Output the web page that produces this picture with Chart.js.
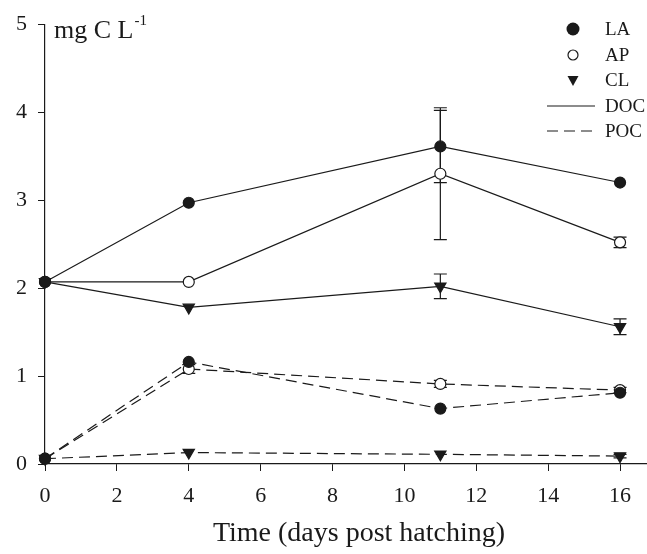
<!DOCTYPE html>
<html>
<head>
<meta charset="utf-8">
<script src="https://cdn.jsdelivr.net/npm/chart.js@4.4.0/dist/chart.umd.min.js"></script>
<style>
    body { margin: 0; background: #fff; }
    #wrap { width: 647px; height: 554px; }
</style>
</head>
<body>
<div id="wrap"><canvas id="chart" width="647" height="554"></canvas></div>
<script>
const days = [0, 4, 11, 16];
const xTicks = [0, 2, 4, 6, 8, 10, 12, 14, 16];

// DOC (solid)
const docLA = [2.07, 2.97, 3.61, 3.20];
const docAP = [2.07, 2.07, 3.30, 2.52];
const docCL = [2.07, 1.78, 2.02, 1.56];
// POC (dashed)
const pocLA = [0.06, 1.16, 0.63, 0.81];
const pocAP = [0.06, 1.08, 0.91, 0.84];
const pocCL = [0.06, 0.13, 0.11, 0.09];

// standard errors
const errDocLA = [0, 0, 0.41, 0];
const errDocAP = [0, 0, 0.75, 0.06];
const errDocCL = [0, 0, 0.14, 0.09];
const errPocLA = [0, 0, 0, 0];
const errPocAP = [0, 0.05, 0.04, 0.03];
const errPocCL = [0, 0, 0, 0.02];

const ink = '#1a1a1a';
const serif = "'Liberation Serif', 'DejaVu Serif', serif";
const dash = [11, 6];

function makeSet(label, values, errors, marker, dashed) {
    return {
        label: label,
        data: days.map((d, i) => ({ x: d, y: values[i] })),
        errors: errors,
        borderColor: ink,
        borderWidth: 1.2,
        borderDash: dashed ? dash : [],
        pointStyle: marker === 'tri' ? 'triangle' : 'circle',
        pointRotation: marker === 'tri' ? 180 : 0,
        pointRadius: marker === 'tri' ? 6.5 : 5.5,
        pointBackgroundColor: marker === 'open' ? '#fff' : ink,
        pointBorderColor: ink,
        pointBorderWidth: 1.2,
        tension: 0,
        clip: false
    };
}

const data = {
    datasets: [
        makeSet('LA DOC', docLA, errDocLA, 'fill', false),
        makeSet('AP DOC', docAP, errDocAP, 'open', false),
        makeSet('CL DOC', docCL, errDocCL, 'tri', false),
        makeSet('LA POC', pocLA, errPocLA, 'fill', true),
        makeSet('AP POC', pocAP, errPocAP, 'open', true),
        makeSet('CL POC', pocCL, errPocCL, 'tri', true)
    ]
};

const errorBars = {
    id: 'errorBars',
    beforeDatasetsDraw(chart) {
        const ctx = chart.ctx;
        const xs = chart.scales.x, ys = chart.scales.y;
        ctx.save();
        ctx.strokeStyle = ink;
        ctx.lineWidth = 1.2;
        chart.data.datasets.forEach((ds) => {
            ds.data.forEach((p, i) => {
                const e = ds.errors[i];
                if (!e) return;
                const px = xs.getPixelForValue(p.x);
                const top = ys.getPixelForValue(p.y + e);
                const bot = ys.getPixelForValue(p.y - e);
                ctx.beginPath();
                ctx.moveTo(px, top); ctx.lineTo(px, bot);
                ctx.moveTo(px - 6.5, top); ctx.lineTo(px + 6.5, top);
                ctx.moveTo(px - 6.5, bot); ctx.lineTo(px + 6.5, bot);
                ctx.stroke();
            });
        });
        ctx.restore();
    }
};

const extras = {
    id: 'extras',
    afterDraw(chart) {
        const ctx = chart.ctx;
        ctx.save();
        ctx.fillStyle = ink;
        ctx.strokeStyle = ink;

        // unit label
        ctx.textBaseline = 'alphabetic';
        ctx.textAlign = 'left';
        ctx.font = '26px ' + serif;
        ctx.fillText('mg C L', 54, 38);
        const w = ctx.measureText('mg C L').width;
        ctx.font = '15px ' + serif;
        ctx.fillText('-1', 54 + w + 1, 25);

        // axis title
        ctx.font = '28px ' + serif;
        ctx.textAlign = 'center';
        ctx.fillText('Time (days post hatching)', 359, 541);

        // legend
        ctx.font = '19px ' + serif;
        ctx.textAlign = 'left';
        ctx.textBaseline = 'middle';
        const rows = [['LA', 29], ['AP', 55], ['CL', 80], ['DOC', 106], ['POC', 131]];
        rows.forEach(([t, y]) => ctx.fillText(t, 605, y + 1));

        ctx.lineWidth = 1.2;
        ctx.beginPath();
        ctx.arc(573, 29, 6.5, 0, Math.PI * 2);
        ctx.fill();
        ctx.beginPath();
        ctx.arc(573, 55, 5, 0, Math.PI * 2);
        ctx.fillStyle = '#fff';
        ctx.fill();
        ctx.stroke();
        ctx.fillStyle = ink;
        ctx.beginPath();
        ctx.moveTo(567.5, 76); ctx.lineTo(578.5, 76); ctx.lineTo(573, 86);
        ctx.closePath();
        ctx.fill();

        ctx.beginPath();
        ctx.moveTo(547, 106); ctx.lineTo(595, 106);
        ctx.stroke();
        ctx.setLineDash(dash);
        ctx.beginPath();
        ctx.moveTo(547, 131); ctx.lineTo(595, 131);
        ctx.stroke();
        ctx.restore();
    }
};

const config = {
    type: 'line',
    data,
    options: {
        responsive: false,
        animation: false,
        layout: {
            autoPadding: false,
            padding: { top: 24, left: 0, right: 0, bottom: 0 }
        },
        plugins: {
            legend: false,
            tooltip: false
        },
        scales: {
            x: {
                type: 'linear',
                min: 0,
                max: 16.75,
                afterBuildTicks: (scale) => {
                    scale.ticks = xTicks.map((v) => ({ value: v }));
                },
                afterFit: (scale) => {
                    scale.height = 90;
                    scale.paddingRight = 0;
                },
                grid: {
                    drawOnChartArea: false,
                    tickLength: 7,
                    color: ink
                },
                border: { color: ink, width: 1.2 },
                ticks: {
                    color: ink,
                    padding: 12,
                    maxRotation: 0,
                    autoSkip: false,
                    font: { family: serif, size: 22 }
                }
            },
            y: {
                type: 'linear',
                min: 0,
                max: 5,
                afterFit: (scale) => { scale.width = 45; },
                grid: {
                    drawOnChartArea: false,
                    tickLength: 7,
                    color: ink
                },
                border: { color: ink, width: 1.2 },
                ticks: {
                    color: ink,
                    stepSize: 1,
                    padding: 11,
                    font: { family: serif, size: 22 }
                }
            }
        }
    },
    plugins: [errorBars, extras]
};

var myChart = new Chart(
    document.getElementById('chart'),
    config
);
</script>
</body>
</html>
